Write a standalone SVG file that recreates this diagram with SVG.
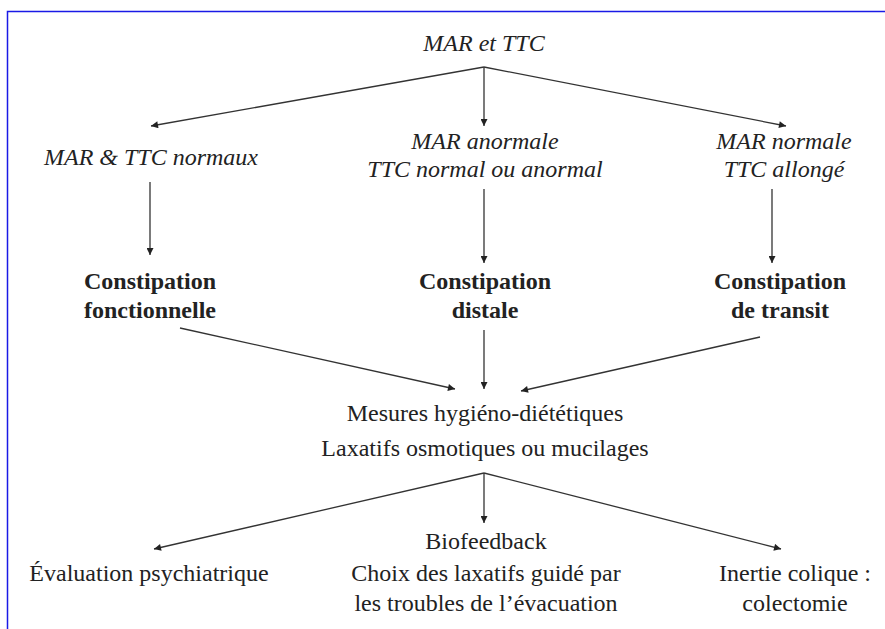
<svg xmlns="http://www.w3.org/2000/svg" width="885" height="629" viewBox="0 0 885 629">
<defs>
<style>
text{font-family:"Liberation Serif","DejaVu Serif","Times New Roman",serif;fill:#222;text-anchor:middle;font-size:24px}
.i{font-style:italic}
.b{font-weight:bold}
.c line{stroke:#333;stroke-width:1.3;marker-end:url(#ah)}
</style>
<marker id="ah" viewBox="0 0 10 10" refX="10" refY="5" markerWidth="8" markerHeight="7" markerUnits="userSpaceOnUse" orient="auto">
<path d="M0,0 L10,5 L0,10 z" fill="#222"/>
</marker>
</defs>
<rect width="885" height="629" fill="#fff"/>
<path d="M7.5,629 V11.5 H885" fill="none" stroke="#1a1ae6" stroke-width="1.5"/>
<g id="n-top"><text class="i" x="484" y="51">MAR et TTC</text></g>
<g id="n-a"><text class="i" x="151" y="165">MAR &amp; TTC normaux</text></g>
<g id="n-b"><text class="i" x="485" y="149">MAR anormale</text><text class="i" x="485" y="177">TTC normal ou anormal</text></g>
<g id="n-c"><text class="i" x="784" y="149">MAR normale</text><text class="i" x="784" y="177">TTC allongé</text></g>
<g id="n-d"><text class="b" x="150" y="289">Constipation</text><text class="b" x="150" y="318">fonctionnelle</text></g>
<g id="n-e"><text class="b" x="485" y="289">Constipation</text><text class="b" x="485" y="318">distale</text></g>
<g id="n-f"><text class="b" x="780" y="289">Constipation</text><text class="b" x="780" y="318">de transit</text></g>
<g id="n-g"><text x="485" y="421">Mesures hygiéno-diététiques</text><text x="485" y="456">Laxatifs osmotiques ou mucilages</text></g>
<g id="n-h"><text x="149" y="581">Évaluation psychiatrique</text></g>
<g id="n-i"><text x="486" y="549">Biofeedback</text><text x="486" y="581">Choix des laxatifs guidé par</text><text x="486" y="611">les troubles de l’évacuation</text></g>
<g id="n-j"><text x="795" y="581">Inertie colique :</text><text x="795" y="611">colectomie</text></g>
<g class="c" id="connectors">
<line x1="484" y1="67" x2="151" y2="126"/>
<line x1="484" y1="67" x2="484" y2="126"/>
<line x1="484" y1="67" x2="786" y2="126"/>
<line x1="150" y1="182" x2="150" y2="255"/>
<line x1="484" y1="189" x2="484" y2="263"/>
<line x1="772" y1="189" x2="772" y2="263"/>
<line x1="180" y1="328" x2="455" y2="389"/>
<line x1="484" y1="330" x2="484" y2="389"/>
<line x1="760" y1="337" x2="521" y2="391"/>
<line x1="484" y1="473" x2="154" y2="549"/>
<line x1="484" y1="473" x2="484" y2="523"/>
<line x1="484" y1="473" x2="781" y2="549"/>
</g>
</svg>
